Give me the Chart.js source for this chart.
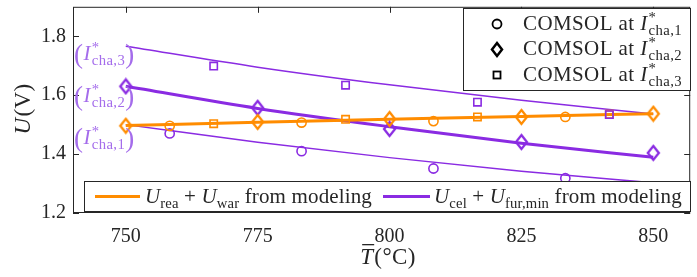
<!DOCTYPE html>
<html>
<head>
<meta charset="utf-8">
<script src="https://cdn.jsdelivr.net/npm/chart.js@4.4.1/dist/chart.umd.min.js"></script>
<style>
  body { margin: 0; background: #fff; }
  #wrap { width: 697px; height: 277px; }
</style>
</head>
<body>
<div id="wrap"><canvas id="myChart"></canvas></div>
<script>
// axis ranges and ticks
var xMin = 740, xMax = 857, yMin = 1.2, yMax = 1.9;
var xTicks = [750, 775, 800, 825, 850];
var yTicks = [1.2, 1.4, 1.6, 1.8];

// modeling curves
var modelT = [750, 775, 800, 825, 850];
var ureaWar = [1.497, 1.508, 1.518, 1.528, 1.537];
var ucelI1 = [1.500, 1.440, 1.388, 1.342, 1.303];
var ucelI2 = [1.630, 1.555, 1.493, 1.437, 1.389];
var ucelI3 = [1.766, 1.695, 1.635, 1.583, 1.536];

// COMSOL points
var tI1 = [758.33, 783.33, 808.33, 833.33];
var tI2 = [750, 775, 800, 825, 850];
var tI3 = [766.67, 791.67, 816.67, 841.67];
var reaI1 = [1.496, 1.507, 1.512, 1.526];
var reaI2 = [1.496, 1.509, 1.519, 1.526, 1.537];
var reaI3 = [1.503, 1.518, 1.526, 1.535];
var celI1 = [1.470, 1.410, 1.351, 1.318];
var celI2 = [1.630, 1.557, 1.485, 1.441, 1.404];
var celI3 = [1.699, 1.634, 1.576, 1.534];

var ORANGE = "#ff8c00";
var PURPLE = "#8a2be2";
var LABEL_PURPLE = "#a46ceb";
var AXIS = "#262626";
var FONT = '"Liberation Serif", serif';

function pts(xs, ys) {
  return xs.map(function (x, i) { return { x: x, y: ys[i] }; });
}

// diamond marker (taller than wide, like MATLAB)
function diamond(color) {
  var c = document.createElement("canvas");
  c.width = 15; c.height = 18;
  var g = c.getContext("2d");
  g.strokeStyle = color;
  g.lineWidth = 2.3;
  g.beginPath();
  g.moveTo(7.5, 2); g.lineTo(13, 9); g.lineTo(7.5, 16); g.lineTo(2, 9);
  g.closePath();
  g.stroke();
  return c;
}

function markers(data, color, style) {
  var ds = {
    data: data,
    showLine: false,
    borderColor: color,
    backgroundColor: "rgba(0,0,0,0)",
    borderWidth: 1.6,
    pointRadius: 4.6,
  };
  if (style === "diamond") {
    ds.pointStyle = diamond(color);
  } else if (style === "rect") {
    ds.pointStyle = "rect";
    ds.pointRadius = 5.2;
  } else {
    ds.pointStyle = "circle";
  }
  return ds;
}

function curve(data, color, width) {
  return {
    data: data,
    showLine: true,
    borderColor: color,
    borderWidth: width,
    pointRadius: 0,
    cubicInterpolationMode: "monotone",
    fill: false,
  };
}

// draws text with italic parts, sub/superscripts; y is the baseline
function mathText(ctx, x, y, parts, fs, measureOnly) {
  var cx = x;
  parts.forEach(function (p) {
    if (p.sub !== undefined || p.sup !== undefined) {
      var w = 0;
      ctx.font = (fs * 0.7) + "px " + FONT;
      if (p.sup) {
        if (!measureOnly) ctx.fillText(p.sup, cx, y - fs * 0.36);
        w = Math.max(w, ctx.measureText(p.sup).width);
      }
      if (p.sub) {
        if (!measureOnly) ctx.fillText(p.sub, cx, y + fs * 0.22);
        w = Math.max(w, ctx.measureText(p.sub).width);
      }
      cx += w;
    } else {
      ctx.font = (p.i ? "italic " : "") + (p.size || fs) + "px " + FONT;
      if (!measureOnly) ctx.fillText(p.t, cx, y + (p.dy || 0));
      cx += ctx.measureText(p.t).width + (p.gap || 0);
    }
  });
  return cx - x;
}

var decorations = {
  id: "decorations",
  afterDatasetsDraw: function (chart) {
    var ctx = chart.ctx;
    var a = chart.chartArea;
    var xs = chart.scales.x, ys = chart.scales.y;
    ctx.save();
    ctx.textBaseline = "alphabetic";
    ctx.textAlign = "left";

    // axes box and inward ticks
    ctx.strokeStyle = AXIS;
    ctx.lineWidth = 1;
    ctx.strokeRect(a.left + 0.5, a.top + 0.5, a.right - a.left - 1, a.bottom - a.top - 1);
    ctx.beginPath();
    xTicks.forEach(function (v) {
      var px = Math.round(xs.getPixelForValue(v)) + 0.5;
      ctx.moveTo(px, a.bottom); ctx.lineTo(px, a.bottom - 6);
      ctx.moveTo(px, a.top); ctx.lineTo(px, a.top + 6);
    });
    yTicks.forEach(function (v) {
      var py = Math.round(ys.getPixelForValue(v)) + 0.5;
      ctx.moveTo(a.left, py); ctx.lineTo(a.left + 6, py);
      ctx.moveTo(a.right, py); ctx.lineTo(a.right - 6, py);
    });
    ctx.stroke();

    ctx.letterSpacing = "0.4px";

    // current labels on the left
    ctx.fillStyle = LABEL_PURPLE;
    [["3", 52], ["2", 94], ["1", 136]].forEach(function (r) {
      mathText(ctx, 74, r[1] + 8, [
        { t: "(", size: 27, dy: 3 },
        { t: "I", i: true, gap: 1 },
        { sup: "*", sub: "cha," + r[0] },
        { t: ")", size: 27, dy: 3 },
      ], 21);
    });

    // top-right legend
    ctx.fillStyle = "#fff";
    ctx.fillRect(463, 8, 228, 83);
    ctx.strokeStyle = AXIS;
    ctx.lineWidth = 1;
    ctx.strokeRect(463.5, 8.5, 227, 82);
    ctx.strokeStyle = "#000";
    ctx.lineWidth = 1.8;
    ctx.beginPath(); ctx.arc(497, 24, 4.5, 0, Math.PI * 2); ctx.stroke();
    ctx.lineWidth = 2.5;
    ctx.beginPath();
    ctx.moveTo(497, 43); ctx.lineTo(502, 49.5); ctx.lineTo(497, 56); ctx.lineTo(492, 49.5);
    ctx.closePath(); ctx.stroke();
    ctx.lineWidth = 1.8;
    ctx.strokeRect(493.5, 71.5, 7, 7);
    ctx.fillStyle = AXIS;
    [["1", 24], ["2", 49], ["3", 75]].forEach(function (r) {
      mathText(ctx, 523, r[1] + 6, [
        { t: "COMSOL at " },
        { t: "I", i: true, gap: 1 },
        { sup: "*", sub: "cha," + r[0] },
      ], 21);
    });

    // bottom legend
    ctx.letterSpacing = "0.15px";
    ctx.fillStyle = "#fff";
    ctx.fillRect(84, 181, 607, 31);
    ctx.strokeStyle = AXIS;
    ctx.lineWidth = 1;
    ctx.strokeRect(84.5, 181.5, 606, 30);
    ctx.lineWidth = 3;
    ctx.strokeStyle = ORANGE;
    ctx.beginPath(); ctx.moveTo(95, 196.5); ctx.lineTo(140, 196.5); ctx.stroke();
    ctx.strokeStyle = PURPLE;
    ctx.beginPath(); ctx.moveTo(383, 196.5); ctx.lineTo(430, 196.5); ctx.stroke();
    ctx.fillStyle = AXIS;
    mathText(ctx, 145, 203, [
      { t: "U", i: true }, { sub: "rea" }, { t: " + " },
      { t: "U", i: true }, { sub: "war" }, { t: " from modeling" },
    ], 21);
    mathText(ctx, 434, 203, [
      { t: "U", i: true }, { sub: "cel" }, { t: " + " },
      { t: "U", i: true }, { sub: "fur,min" }, { t: " from modeling" },
    ], 21);

    // axis titles
    ctx.letterSpacing = "0.4px";
    var yParts = [{ t: "U", i: true, gap: 1 }, { t: "(V)" }];
    var yw = mathText(ctx, 0, 0, yParts, 23, true);
    ctx.save();
    ctx.translate(30, 109);
    ctx.rotate(-Math.PI / 2);
    mathText(ctx, -yw / 2, 0, yParts, 23);
    ctx.restore();

    var xParts = [{ t: "T", i: true, gap: 1 }, { t: "(°C)" }];
    var xw = mathText(ctx, 0, 0, xParts, 23, true);
    var x0 = 388 - xw / 2;
    mathText(ctx, x0, 264, xParts, 23);
    ctx.fillRect(x0 + 2, 244, 12, 1.3);
    ctx.restore();
  },
};

document.addEventListener("DOMContentLoaded", function () {
  var ctx = document.getElementById("myChart").getContext("2d");
  new Chart(ctx, {
    type: "scatter",
    data: {
      datasets: [
        markers(pts(tI3, celI3), PURPLE, "rect"),
        markers(pts(tI1, reaI1), ORANGE, "circle"),
        markers(pts(tI2, reaI2), ORANGE, "diamond"),
        markers(pts(tI3, reaI3), ORANGE, "rect"),
        markers(pts(tI1, celI1), PURPLE, "circle"),
        markers(pts(tI2, celI2), PURPLE, "diamond"),
        curve(pts(modelT, ureaWar), ORANGE, 3),
        curve(pts(modelT, ucelI2), PURPLE, 3),
        curve(pts(modelT, ucelI1), PURPLE, 1.5),
        curve(pts(modelT, ucelI3), PURPLE, 1.5),
      ],
    },
    options: {
      responsive: true,
      maintainAspectRatio: false,
      animation: false,
      layout: { padding: { top: 3, right: 6, left: 0, bottom: 0 } },
      plugins: { legend: { display: false }, tooltip: { enabled: false } },
      scales: {
        x: {
          type: "linear",
          min: xMin,
          max: xMax,
          afterBuildTicks: function (s) { s.ticks = xTicks.map(function (v) { return { value: v }; }); },
          afterFit: function (s) { s.height = 64; s.paddingLeft = 0; s.paddingRight = 0; },
          grid: { display: false, drawTicks: false },
          border: { display: false },
          ticks: { color: AXIS, font: { family: FONT, size: 20 }, padding: 12, maxRotation: 0 },
        },
        y: {
          min: yMin,
          max: yMax,
          afterBuildTicks: function (s) { s.ticks = yTicks.map(function (v) { return { value: v }; }); },
          afterFit: function (s) { s.width = 73; s.paddingTop = 0; s.paddingBottom = 0; },
          grid: { display: false, drawTicks: false },
          border: { display: false },
          ticks: {
            color: AXIS,
            font: { family: FONT, size: 20 },
            padding: 7,
            callback: function (v) { return v.toFixed(1); },
          },
        },
      },
    },
    plugins: [decorations],
  });
});
</script>
</body>
</html>
